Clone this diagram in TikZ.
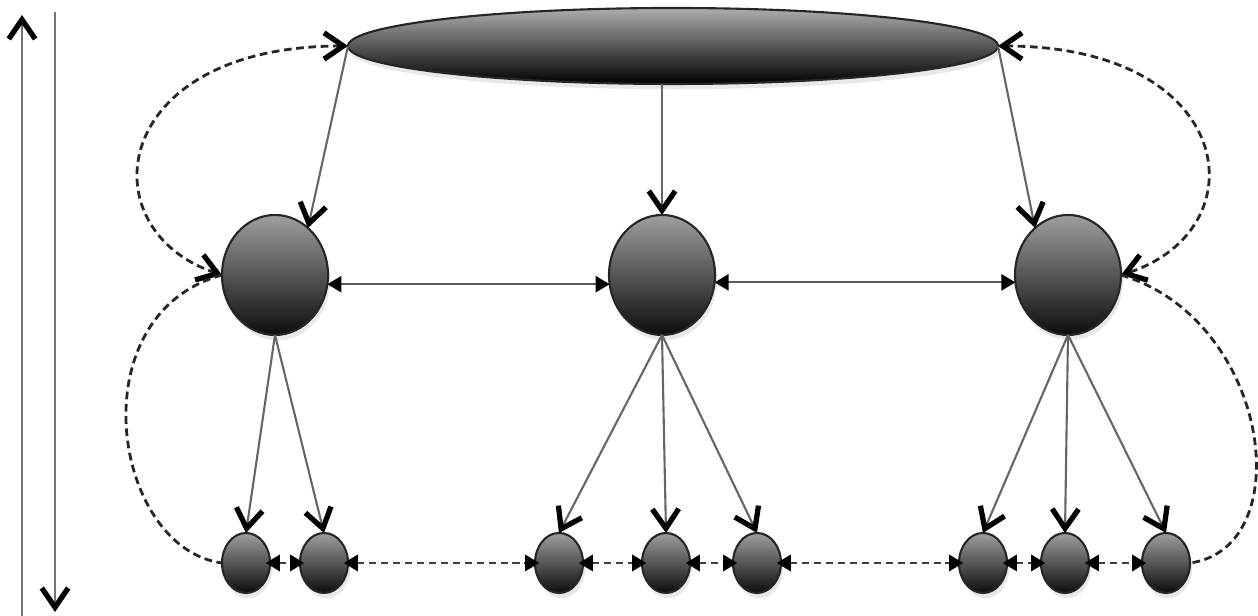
\documentclass[tikz,border=0pt]{standalone}
\usepackage{tikz}
\usetikzlibrary{arrows.meta,shapes.geometric,shadows}
\tikzset{
	barb/.tip={Straight Barb[length=5.5pt,width=7.5pt,line width=1.5pt,color=black]},
	tri/.tip={Triangle[length=4pt,width=4.6pt,color=black]},
	ball/.style={ellipse, draw=black!85, line width=0.6pt, inner sep=0pt, outer sep=0pt,
		top color=black!38, bottom color=black!95,
		drop shadow={opacity=0.18, shadow xshift=0.6pt, shadow yshift=-1.5pt}},
	rootball/.style={ball, minimum width=6.5cm, minimum height=0.76cm, top color=black!32, bottom color=black},
	midball/.style={ball, minimum width=1.06cm, minimum height=1.2cm},
	leafball/.style={ball, minimum width=0.48cm, minimum height=0.6cm},
	down/.style={draw=black!60, line width=0.6pt, -{barb}},
	sidelink/.style={draw=black!65, line width=0.6pt, {tri}-{tri}},
	leaflink/.style={draw=black!75, line width=0.8pt, dash pattern=on 2pt off 1.4pt, {tri}-{tri},
		shorten <=-1.2pt, shorten >=-1.2pt},
	curvelink/.style={draw=black!85, line width=0.8pt, dash pattern=on 2.2pt off 1.3pt},
	axisline/.style={draw=black!55, line width=0.7pt, -{barb}}
}

\begin{document}
\begin{tikzpicture}
			%%%%% START %%%%%
			\useasboundingbox (0, 0) rectangle (12.58, 6.16);
			
			% axis arrows on the left
			\coordinate (upfoot) at (0.22, 0);
			\coordinate (uphead) at (0.22, 6.01);
			\coordinate (downfoot) at (0.55, 6.04);
			\coordinate (downhead) at (0.55, 0.04);
			\draw[axisline] (upfoot) -- (uphead);
			\draw[axisline] (downfoot) -- (downhead);
			
			% top level
			\node[rootball] (top) at (6.73, 5.70) {};
			
			% middle level
			\node[midball] (m1) at (2.75, 3.41) {};
			\node[midball] (m2) at (6.62, 3.41) {};
			\node[midball] (m3) at (10.68, 3.41) {};
			
			% bottom level
			\node[leafball] (s1) at (2.46, 0.53) {};
			\node[leafball] (s2) at (3.24, 0.53) {};
			\node[leafball] (s3) at (5.59, 0.53) {};
			\node[leafball] (s4) at (6.66, 0.53) {};
			\node[leafball] (s5) at (7.57, 0.53) {};
			\node[leafball] (s6) at (9.83, 0.53) {};
			\node[leafball] (s7) at (10.65, 0.53) {};
			\node[leafball] (s8) at (11.66, 0.53) {};
			
			% top to middle
			\draw[down] (top.west) -- (m1.55);
			\draw[down] (top.south -| m2.north) -- (m2.north);
			\draw[down] (top.east) -- (m3.125);
			
			% middle to bottom
			\draw[down] (m1.south) -- (s1.north);
			\draw[down] (m1.south) -- (s2.north);
			\draw[down] (m2.south) -- (s3.north);
			\draw[down] (m2.south) -- (s4.north);
			\draw[down] (m2.south) -- (s5.north);
			\draw[down] (m3.south) -- (s6.north);
			\draw[down] (m3.south) -- (s7.north);
			\draw[down] (m3.south) -- (s8.north);
			
			% links inside a level
			\draw[sidelink] (m1.-10) -- (m2.190);
			\draw[sidelink] (m2.-8) -- (m3.188);
			\draw[leaflink] (s1.east) -- (s2.west);
			\draw[leaflink] (s2.east) -- (s3.west);
			\draw[leaflink] (s3.east) -- (s4.west);
			\draw[leaflink] (s4.east) -- (s5.west);
			\draw[leaflink] (s5.east) -- (s6.west);
			\draw[leaflink] (s6.east) -- (s7.west);
			\draw[leaflink] (s7.east) -- (s8.west);
			
			% dashed loops at the sides
			\draw[curvelink, {barb}-{barb}] (top.west) .. controls +(-2.4, 0) and +(-1.35, 0.45) .. (m1.west);
			\draw[curvelink, {barb}-{barb}] (top.east) .. controls +(2.4, 0) and +(1.4, 0.45) .. (m3.east);
			\draw[curvelink] (m1.west) .. controls +(-1.45, -0.4) and +(-1.1, 0.15) .. (s1.west);
			\draw[curvelink] (m3.east) .. controls +(1.5, -0.45) and +(1.1, 0.15) .. (s8.east);
			
			%%%%% END %%%%%
		\end{tikzpicture}
\end{document}
